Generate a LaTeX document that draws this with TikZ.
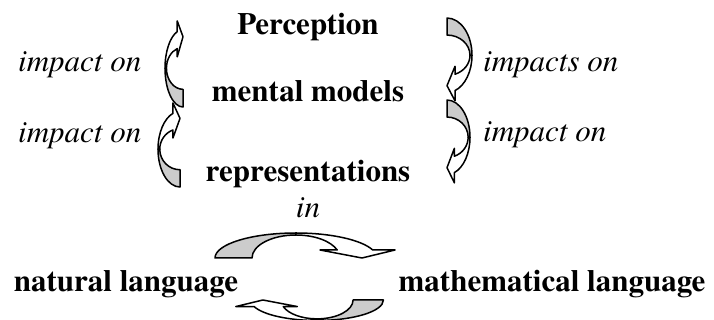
\documentclass[tikz,border=0pt]{standalone}
\usepackage{fontspec}
\setmainfont{texgyretermes}[Extension=.otf, UprightFont=*-regular, BoldFont=*-bold, ItalicFont=*-italic, BoldItalicFont=*-bolditalic]

% one curved block arrow: tail on the left, head on the right, bulge up
\newcommand{\ribbonarrow}{%
	\filldraw[tailpart] (-81,0) arc[start angle=180, end angle=90, x radius=81, y radius=25] -- (0,23) arc[start angle=90, end angle=180, x radius=44, y radius=23] -- cycle;
	\filldraw[headpart] (0,25) arc[start angle=90, end angle=18.66, x radius=81, y radius=25] -- (99,8) -- (66,0) -- (24,8) -- (41.2,8) arc[start angle=20.35, end angle=90, x radius=44, y radius=23] -- cycle;
}

\begin{document}
\begin{tikzpicture}[x=1pt, y=1pt,
	term/.style={anchor=base, inner sep=0pt, font=\fontsize{31}{37}\selectfont\bfseries},
	verb/.style={anchor=base west, inner sep=0pt, font=\fontsize{31}{37}\selectfont\itshape},
	tailpart/.style={draw, line width=1.5pt, line join=round, fill=gray!40},
	headpart/.style={draw, line width=1.5pt, line join=round, fill=white}]
	\useasboundingbox (0,0) rectangle (714,320);
	% Terms:
	\node[term] (perception) at (308, 285){Perception};
	\node[term] (mental) at (308, 218){mental models};
	\node[term] (repr) at (308, 138){representations};
	\node[term] (natural) at (126, 28){natural language};
	\node[term] (math) at (552, 28){mathematical language};
	% Verbs:
	\node[verb] (impactA) at (18, 248){impact on};
	\node[verb] (impactB) at (18, 177){impact on};
	\node[verb] (impactsC) at (483, 248){impacts on};
	\node[verb] (impactD) at (483, 178){impact on};
	\node[verb, anchor=base] (in) at (308, 102){in};
	% Curved arrows, left side:
	\begin{scope}[shift={(183, 251.7)}, rotate=90, xscale=0.478, yscale=0.72]
		\ribbonarrow
	\end{scope}
	\begin{scope}[shift={(180, 170.8)}, rotate=90, xscale=0.467, yscale=0.88]
		\ribbonarrow
	\end{scope}
	% Curved arrows, right side:
	\begin{scope}[shift={(447, 264.7)}, rotate=-90, xscale=0.46, yscale=1]
		\ribbonarrow
	\end{scope}
	\begin{scope}[shift={(447, 182.7)}, rotate=-90, xscale=0.46, yscale=0.92]
		\ribbonarrow
	\end{scope}
	% Curved arrows between the languages:
	\begin{scope}[shift={(296, 62)}]
		\ribbonarrow
	\end{scope}
	\begin{scope}[shift={(317, 20)}, rotate=180, scale=0.82]
		\ribbonarrow
	\end{scope}
\end{tikzpicture}
\end{document}
